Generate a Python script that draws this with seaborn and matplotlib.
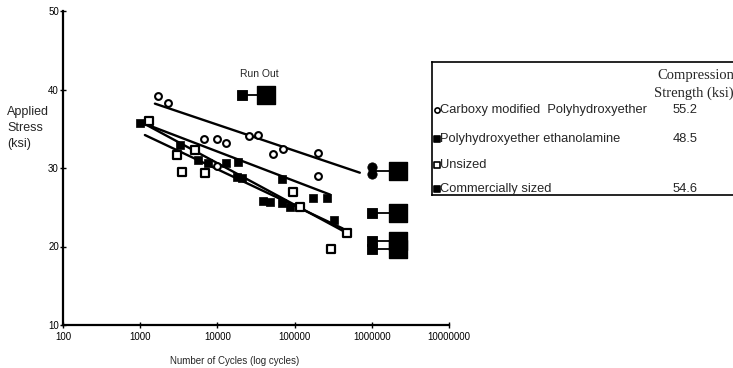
import numpy as np
import pandas as pd
import matplotlib
matplotlib.use("Agg")
import matplotlib.pyplot as plt
import seaborn as sns
from matplotlib.ticker import FixedLocator, FixedFormatter, NullLocator

# Carboxy modified Polyhydroxyether (hollow circles)
carboxy_cycles = [1700, 2300, 6700, 9800, 10000, 13000, 26000, 34000, 53000, 71000, 200000, 200000]
carboxy_stress = [39.2, 38.3, 33.7, 33.7, 30.3, 33.2, 34.1, 34.2, 31.8, 32.4, 31.9, 29.0]

# Polyhydroxyether ethanolamine (filled squares)
ethanol_cycles = [1000, 5600, 13000, 18500, 69000, 175000, 260000]
ethanol_stress = [35.7, 31.0, 30.6, 30.8, 28.6, 26.2, 26.2]

# Unsized (hollow squares)
unsized_cycles = [1300, 3000, 3500, 5200, 6900, 95000, 118000, 300000, 480000]
unsized_stress = [36.0, 31.7, 29.5, 32.3, 29.4, 26.9, 25.0, 19.7, 21.7]

# Commercially sized (filled squares)
commercial_cycles = [3300, 7500, 18000, 21000, 39000, 48000, 69000, 87000, 320000]
commercial_stress = [32.9, 30.6, 28.9, 28.7, 25.8, 25.7, 25.5, 25.0, 23.4]

# fit lines (end points)
fit_carboxy = ([1550, 700000], [38.2, 29.4])
fit_ethanol = ([1100, 290000], [35.7, 26.6])
fit_unsized = ([1100, 480000], [35.7, 21.7])
fit_commercial = ([1150, 420000], [34.2, 22.3])

# run-outs: start point -> run out marker
runout_start_cycles = [21000, 1000000, 1000000, 1000000, 1000000]
runout_end_cycles = [43000, 2200000, 2200000, 2200000, 2200000]
runout_stress = [39.3, 29.6, 24.3, 20.7, 19.7]
runout_circles_stress = [30.1, 29.2]

legend_names = ["Carboxy modified  Polyhydroxyether", "Polyhydroxyether ethanolamine",
                "Unsized", "Commercially sized"]
legend_strength = ["55.2", "48.5", "", "54.6"]

sns.set_style("white")
plt.rcParams['font.family'] = ['Liberation Sans', 'DejaVu Sans']

fig = plt.figure(figsize=(7.33, 3.68), dpi=100)
ax = fig.add_axes([63/733, 1-325/368, (449-63)/733, (325-11)/368])

df = pd.concat([
    pd.DataFrame({'cycles': carboxy_cycles, 'stress': carboxy_stress, 'grp': 'carboxy'}),
    pd.DataFrame({'cycles': ethanol_cycles, 'stress': ethanol_stress, 'grp': 'ethanol'}),
    pd.DataFrame({'cycles': unsized_cycles, 'stress': unsized_stress, 'grp': 'unsized'}),
    pd.DataFrame({'cycles': commercial_cycles, 'stress': commercial_stress, 'grp': 'commercial'}),
])

for (x, y) in [fit_carboxy, fit_ethanol, fit_unsized, fit_commercial]:
    sns.lineplot(x=x, y=y, ax=ax, color='black', linewidth=1.7)

for xs, xe, y in zip(runout_start_cycles, runout_end_cycles, runout_stress):
    sns.lineplot(x=[xs, xe], y=[y, y], ax=ax, color='black', linewidth=1.3)

sub = df[df.grp == 'carboxy']
sns.scatterplot(data=sub, x='cycles', y='stress', ax=ax, marker='o', s=24,
                facecolor='white', edgecolor='black', linewidth=1.5, zorder=3)
sub = df[df.grp == 'unsized']
sns.scatterplot(data=sub, x='cycles', y='stress', ax=ax, marker='s', s=36,
                facecolor='white', edgecolor='black', linewidth=1.6, zorder=3)
sub = df[df.grp.isin(['ethanol', 'commercial'])]
sns.scatterplot(data=sub, x='cycles', y='stress', ax=ax, marker='s', s=40,
                color='black', edgecolor='black', linewidth=0.5, zorder=3)

# run-out start markers
sns.scatterplot(x=[runout_start_cycles[0]], y=[runout_stress[0]], ax=ax, marker='s', s=60,
                color='black', edgecolor='black', zorder=4)
sns.scatterplot(x=[1000000] * 2, y=runout_circles_stress, ax=ax, marker='o', s=45,
                color='black', edgecolor='black', zorder=4)
sns.scatterplot(x=runout_start_cycles[2:], y=runout_stress[2:], ax=ax, marker='s', s=60,
                color='black', edgecolor='black', zorder=4)
sns.scatterplot(x=runout_end_cycles, y=runout_stress, ax=ax, marker='s', s=150,
                color='black', edgecolor='black', zorder=4)

ax.text(35000, 41.3, "Run Out", fontsize=7.5, ha='center', va='bottom')

ax.set_xscale('log')
ax.set_xlim(100, 1e7)
ax.set_ylim(10, 50)
xt = [100, 1000, 10000, 100000, 1000000, 10000000]
ax.xaxis.set_major_locator(FixedLocator(xt))
ax.xaxis.set_major_formatter(FixedFormatter([str(v) for v in xt]))
ax.xaxis.set_minor_locator(NullLocator())
ax.set_yticks([10, 20, 30, 40, 50])
ax.tick_params(axis='both', direction='inout', length=4, width=1, labelsize=7,
               colors='black', pad=3, bottom=True, left=True)
ax.tick_params(axis='y', pad=1)
for s in ['top', 'right']:
    ax.spines[s].set_visible(False)
for s in ['left', 'bottom']:
    ax.spines[s].set_color('black')
    ax.spines[s].set_linewidth(1.6)
ax.set_xlabel("Number of Cycles (log cycles)", fontsize=7)
ax.xaxis.set_label_coords(0.445, -0.1)
ax.set_ylabel("")
fig.text(7/733, 1-128/368, "Applied\nStress\n(ksi)", fontsize=9, ha='left', va='center',
         linespacing=1.5)

# legend box
lax = fig.add_axes([432/733, 1-195/368, (740-432)/733, (195-62)/368])
lax.set_xlim(0, 308)
lax.set_ylim(133, 0)
lax.set_xticks([])
lax.set_yticks([])
for s in lax.spines.values():
    s.set_color('black')
    s.set_linewidth(1.2)
lax.patch.set_alpha(0)
lax.text(302, 13, "Compression", fontsize=10.5, family=['Liberation Serif'], ha='right', va='center')
lax.text(302, 31, "Strength (ksi)", fontsize=10.5, family=['Liberation Serif'], ha='right', va='center')
rows_y = [48, 77, 103, 127]
styles = [('o', 'white', 14), ('s', 'black', 14), ('s', 'white', 14), ('s', 'black', 14)]
for yy, name, val, (mk, fc, sz) in zip(rows_y, legend_names, legend_strength, styles):
    lax.scatter([5], [yy], marker=mk, s=sz, facecolor=fc, edgecolor='black', linewidth=1.2,
                clip_on=False)
    lax.text(8, yy, name, fontsize=9.3, ha='left', va='center')
    if val:
        lax.text(253, yy, val, fontsize=9.3, ha='center', va='center')

fig.savefig('out.png', dpi=100)
